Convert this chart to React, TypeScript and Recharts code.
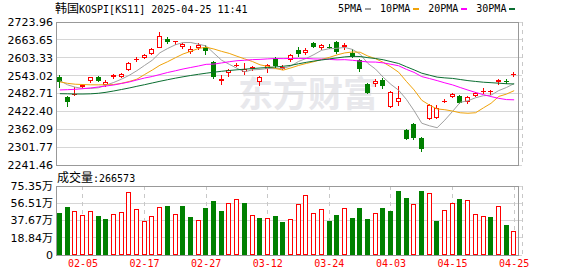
import React from 'react';
import { ComposedChart, Bar, Line, XAxis, YAxis, CartesianGrid, ReferenceArea } from 'recharts';

const dates = [
  '01-31', '02-03', '02-04', '02-05', '02-06', '02-07', '02-10', '02-11', '02-12', '02-13',
  '02-14', '02-17', '02-18', '02-19', '02-20', '02-21', '02-24', '02-25', '02-26', '02-27',
  '02-28', '03-04', '03-05', '03-06', '03-07', '03-10', '03-11', '03-12', '03-13', '03-14',
  '03-17', '03-18', '03-19', '03-20', '03-21', '03-24', '03-25', '03-26', '03-27', '03-28',
  '03-31', '04-01', '04-02', '04-03', '04-04', '04-07', '04-08', '04-09', '04-10', '04-11',
  '04-14', '04-15', '04-16', '04-17', '04-18', '04-21', '04-22', '04-23', '04-24', '04-25',
];

const opens = [
  2540, 2471, 2479, 2506, 2524, 2537, 2510, 2537, 2539, 2563,
  2596, 2604, 2615, 2637, 2668, 2656, 2641, 2623, 2635, 2641,
  2588, 2526, 2552, 2576, 2555, 2564, 2521, 2564, 2602, 2567,
  2596, 2629, 2620, 2653, 2636, 2640, 2658, 2639, 2620, 2596,
  2515, 2516, 2528, 2438, 2453, 2358, 2381, 2331, 2397, 2401,
  2455, 2470, 2474, 2455, 2474, 2489, 2487, 2520, 2526, 2546,
];
const highs = [
  2545, 2473, 2505, 2515, 2540, 2541, 2527, 2550, 2553, 2588,
  2605, 2615, 2636, 2689, 2673, 2660, 2652, 2643, 2652, 2645,
  2591, 2546, 2566, 2585, 2587, 2577, 2541, 2583, 2605, 2580,
  2616, 2640, 2637, 2655, 2650, 2650, 2660, 2652, 2632, 2598,
  2518, 2530, 2535, 2490, 2509, 2362, 2384, 2336, 2448, 2443,
  2464, 2486, 2476, 2474, 2488, 2500, 2496, 2533, 2533, 2556,
];
const lows = [
  2500, 2438, 2474, 2500, 2519, 2521, 2504, 2532, 2535, 2559,
  2588, 2600, 2611, 2636, 2650, 2645, 2632, 2617, 2628, 2614,
  2530, 2512, 2540, 2572, 2546, 2560, 2508, 2553, 2568, 2562,
  2590, 2605, 2614, 2637, 2630, 2632, 2615, 2628, 2603, 2554,
  2480, 2503, 2498, 2435, 2442, 2325, 2325, 2285, 2394, 2398,
  2452, 2466, 2446, 2448, 2470, 2481, 2479, 2510, 2516, 2539,
];
const closes = [
  2520, 2454, 2482, 2512, 2537, 2526, 2523, 2544, 2550, 2584,
  2599, 2612, 2632, 2676, 2656, 2659, 2650, 2633, 2647, 2627,
  2537, 2532, 2563, 2580, 2567, 2571, 2538, 2579, 2577, 2572,
  2611, 2615, 2631, 2641, 2645, 2637, 2622, 2646, 2607, 2564,
  2483, 2525, 2508, 2487, 2466, 2329, 2334, 2296, 2444, 2433,
  2458, 2480, 2450, 2471, 2483, 2492, 2490, 2527, 2523, 2549,
];

// 成交量, 万
const volumes = [
  46.1, 52.7, 47.9, 43.5, 47.9, 42.8, 39.5, 45.0, 46.8, 68.8,
  50.1, 36.9, 42.4, 52.3, 53.8, 45.0, 53.8, 41.7, 38.0, 51.6,
  59.3, 48.3, 56.7, 61.1, 56.7, 43.5, 40.2, 40.2, 42.8, 36.2,
  39.1, 55.6, 65.5, 45.7, 50.1, 37.3, 43.9, 51.2, 40.6, 51.6,
  39.5, 45.7, 51.6, 48.3, 70.2, 62.5, 55.6, 70.2, 67.7, 37.3,
  49.0, 56.7, 61.4, 60.0, 44.6, 42.4, 41.3, 53.4, 32.9, 26.66,
];
// 1 = red (up) bar, 0 = green
const volRise = [
  0, 0, 1, 1, 1, 0, 0, 1, 1, 1,
  1, 1, 1, 1, 0, 1, 0, 0, 1, 0,
  0, 0, 1, 1, 0, 1, 0, 1, 0, 0,
  1, 1, 1, 1, 1, 0, 0, 1, 0, 0,
  0, 1, 0, 0, 0, 0, 1, 0, 1, 0,
  1, 1, 0, 1, 1, 1, 0, 1, 0, 1,
];

const ma5 = [
  2526, 2512, 2504, 2500, 2500, 2502, 2511, 2520, 2531, 2544,
  2559.6, 2577.4, 2595.0, 2620.2, 2634.6, 2647.0, 2654.6, 2654.8, 2649.0, 2643.2,
  2618.8, 2595.2, 2581.2, 2567.8, 2555.8, 2562.6, 2563.8, 2567.0, 2566.4, 2567.4,
  2575.4, 2590.8, 2601.2, 2614.0, 2628.6, 2633.8, 2635.2, 2638.2, 2631.4, 2615.2,
  2584.4, 2565.0, 2537.4, 2513.4, 2493.8, 2463.0, 2424.8, 2382.4, 2373.8, 2367.2,
  2393.0, 2422.2, 2453.0, 2458.4, 2468.4, 2475.2, 2477.2, 2492.6, 2503.0, 2516.2,
];
const ma10 = [
  2522, 2517, 2514, 2513, 2512, 2512, 2512, 2513, 2517, 2523.2,
  2530.9, 2546.7, 2561.7, 2578.1, 2590.0, 2603.3, 2616.0, 2624.9, 2634.6, 2638.9,
  2632.9, 2624.9, 2618.0, 2608.4, 2599.5, 2590.7, 2579.5, 2574.1, 2567.1, 2561.6,
  2569.0, 2577.3, 2584.1, 2590.2, 2598.0, 2604.6, 2613.0, 2619.7, 2622.7, 2621.9,
  2609.1, 2600.1, 2587.8, 2572.4, 2554.5, 2523.7, 2494.9, 2459.9, 2443.6, 2430.5,
  2428.0, 2423.5, 2417.7, 2416.1, 2417.8, 2434.1, 2449.7, 2472.8, 2480.7, 2492.3,
];
const ma20 = [
  2494.6, 2495.6, 2496.9, 2498.9, 2501.3, 2504.6, 2508.0, 2511.4, 2516.5, 2521.5,
  2528.3, 2535.0, 2540.1, 2546.8, 2553.6, 2559.3, 2565.4, 2570.5, 2575.5, 2581.1,
  2581.9, 2585.8, 2589.9, 2593.3, 2594.8, 2597.0, 2597.8, 2599.5, 2600.9, 2600.3,
  2601.0, 2601.1, 2601.1, 2599.3, 2598.8, 2597.7, 2596.3, 2596.9, 2594.9, 2591.8,
  2589.1, 2588.7, 2586.0, 2581.3, 2576.3, 2564.2, 2554.0, 2539.8, 2533.2, 2526.2,
  2518.6, 2511.8, 2502.8, 2494.3, 2486.2, 2478.9, 2472.3, 2466.4, 2462.2, 2461.4,
];
const ma30 = [
  2482.1, 2481.7, 2481.0, 2481.0, 2481.7, 2483.4, 2486.8, 2491.2, 2496.2, 2501.3,
  2507.0, 2512.4, 2518.2, 2523.9, 2529.3, 2534.4, 2539.1, 2543.5, 2547.5, 2551.2,
  2554.6, 2557.6, 2560.3, 2562.7, 2564.7, 2566.8, 2568.8, 2570.5, 2572.2, 2574.6,
  2577.6, 2583.0, 2587.9, 2592.2, 2595.8, 2599.5, 2602.8, 2606.2, 2608.1, 2607.5,
  2603.7, 2600.8, 2596.6, 2590.3, 2584.0, 2573.0, 2562.5, 2551.2, 2544.5, 2538.0,
  2535.4, 2533.6, 2529.9, 2526.2, 2523.4, 2520.8, 2519.2, 2517.5, 2515.7, 2514.9,
];

const priceTicks = [2241.46, 2301.77, 2362.09, 2422.40, 2482.71, 2543.02, 2603.33, 2663.65, 2723.96];
const volTicks = [0, 18.84, 37.67, 56.51, 75.35];
const dateTicks = ['02-05', '02-17', '02-27', '03-12', '03-24', '04-03', '04-15', '04-25'];

const UP = '#ff0000';
const DOWN = '#008000';
const MONO = '"DejaVu Sans Mono", monospace';
const CJK = '"Noto Sans CJK SC", sans-serif';

const rows = dates.map((date, i) => ({
  date,
  open: opens[i],
  high: highs[i],
  low: lows[i],
  close: closes[i],
  range: [lows[i], highs[i]],
  vol: volumes[i],
  rise: volRise[i] === 1,
  ma5: ma5[i],
  ma10: ma10[i],
  ma20: ma20[i],
  ma30: ma30[i],
}));

const Candle = (props: any) => {
  const { x, y, width, height, payload } = props;
  if (x == null || !payload) return null;
  const { open, close, high, low } = payload;
  const top = Math.min(y, y + height);
  const span = Math.abs(height);
  const toY = (v: number) => top + ((high - v) / (high - low)) * span;
  const left = Math.round(x);
  const w = Math.round(width);
  const cx = left + Math.floor(w / 2) + 0.5;
  const yHigh = Math.round(toY(high));
  const yLow = Math.round(toY(low));
  const yTop = Math.round(toY(Math.max(open, close)));
  let yBot = Math.round(toY(Math.min(open, close)));
  if (yBot - yTop < 1) yBot = yTop + 1;

  if (close > open) {
    const thin = yBot - yTop <= 2;
    return (
      <g>
        <line x1={cx} x2={cx} y1={yHigh} y2={yTop} stroke={UP} />
        <line x1={cx} x2={cx} y1={yBot} y2={yLow} stroke={UP} />
        {thin ? (
          <rect x={left} y={yTop} width={w} height={yBot - yTop} fill={UP} />
        ) : (
          <rect x={left + 0.5} y={yTop + 0.5} width={w - 1} height={yBot - yTop - 1} fill="#fff" stroke={UP} />
        )}
      </g>
    );
  }
  return (
    <g>
      <line x1={cx} x2={cx} y1={yHigh} y2={yLow} stroke={DOWN} />
      <rect x={left} y={yTop} width={w} height={yBot - yTop} fill={DOWN} />
    </g>
  );
};

const VolBar = (props: any) => {
  const { x, y, width, height, payload } = props;
  if (x == null || !payload) return null;
  const left = Math.round(x);
  const w = Math.round(width);
  const top = Math.round(y);
  const bottom = Math.round(y + height);
  if (payload.rise) {
    return <rect x={left + 0.5} y={top + 0.5} width={w - 1} height={bottom - top - 1} fill="#fff" stroke={UP} />;
  }
  return <rect x={left} y={top} width={w} height={bottom - top} fill={DOWN} />;
};

const axisTick = { fontSize: 11, fill: '#000', fontFamily: '"DejaVu Sans", "Noto Sans CJK SC", sans-serif' };

const Legend = () => {
  const items = [
    { label: '5PMA', color: '#a0a0a0' },
    { label: '10PMA', color: '#f0a30a' },
    { label: '20PMA', color: '#ff00ff' },
    { label: '30PMA', color: '#0a6e31' },
  ];
  return (
    <div style={{ position: 'absolute', left: 338, top: 2, fontFamily: MONO, fontSize: 10, lineHeight: '14px', whiteSpace: 'nowrap', color: '#000' }}>
      {items.map((it) => (
        <span key={it.label} style={{ marginRight: 9 }}>
          {it.label}
          <span style={{ display: 'inline-block', width: 6, height: 2, background: it.color, marginLeft: 3, verticalAlign: 'middle' }} />
        </span>
      ))}
    </div>
  );
};

export default function App() {
  return (
    <div style={{ position: 'absolute', left: 0, top: 0, width: 578, height: 276, background: '#fff', overflow: 'hidden' }}>
      <div style={{ position: 'absolute', left: 238, top: 66, fontFamily: CJK, fontSize: 35, fontWeight: 700, color: '#e8e8ec', whiteSpace: 'nowrap' }}>
        东方财富
      </div>

      <div style={{ position: 'absolute', left: 55, top: 1, fontSize: 12, lineHeight: '14px', whiteSpace: 'nowrap', color: '#000' }}>
        <span style={{ fontFamily: CJK }}>韩国</span>
        <span style={{ fontFamily: MONO, fontSize: 10 }}>KOSPI[KS11] 2025-04-25 11:41</span>
      </div>
      <Legend />

      <div style={{ position: 'absolute', left: 0, top: 0 }}>
        <ComposedChart width={578} height={176} data={rows} margin={{ top: 22, right: 56, bottom: 11, left: 0 }}>
          <CartesianGrid vertical={false} stroke="#d6d6d6" shapeRendering="crispEdges" />
          <CartesianGrid horizontal={false} stroke="#c8c8c8" strokeDasharray="4 4" shapeRendering="crispEdges" />
          <XAxis dataKey="date" ticks={dateTicks} interval={0} tick={false} tickLine={false} axisLine={false} height={0} padding={{ left: 0, right: 4 }} />
          <YAxis
            domain={[priceTicks[0], priceTicks[priceTicks.length - 1]]}
            ticks={priceTicks}
            interval={0}
            width={56}
            axisLine={false}
            tickLine={false}
            tickSize={1}
            tickMargin={2}
            tick={axisTick}
            tickFormatter={(v: number) => v.toFixed(2)}
            allowDataOverflow
          />
          <ReferenceArea y1={priceTicks[0]} y2={priceTicks[priceTicks.length - 1]} fill="none" stroke="#999" shapeRendering="crispEdges" />
          <Bar dataKey="range" shape={<Candle />} barSize={5} isAnimationActive={false} />
          <Line dataKey="ma5" stroke="#a0a0a0" strokeWidth={1} dot={false} activeDot={false} isAnimationActive={false} />
          <Line dataKey="ma10" stroke="#f0a30a" strokeWidth={1} dot={false} activeDot={false} isAnimationActive={false} />
          <Line dataKey="ma20" stroke="#ff00ff" strokeWidth={1} dot={false} activeDot={false} isAnimationActive={false} />
          <Line dataKey="ma30" stroke="#0a6e31" strokeWidth={1} dot={false} activeDot={false} isAnimationActive={false} />
        </ComposedChart>
      </div>

      <div style={{ position: 'absolute', left: 57, top: 170, fontSize: 12, lineHeight: '14px', whiteSpace: 'nowrap', color: '#000' }}>
        <span style={{ fontFamily: CJK }}>成交量</span>
        <span style={{ fontFamily: MONO, fontSize: 10 }}>:266573</span>
      </div>

      <div style={{ position: 'absolute', left: 0, top: 166 }}>
        <ComposedChart width={578} height={110} data={rows} margin={{ top: 20, right: 56, bottom: 0, left: 0 }}>
          <CartesianGrid vertical={false} stroke="#d6d6d6" shapeRendering="crispEdges" />
          <CartesianGrid horizontal={false} stroke="#c8c8c8" strokeDasharray="4 4" shapeRendering="crispEdges" />
          <XAxis
            dataKey="date"
            ticks={dateTicks}
            interval={0}
            height={21}
            tickLine={false}
            axisLine={false}
            tickSize={2}
            tickMargin={3}
            padding={{ left: 0, right: 4 }}
            tick={{ fontSize: 10, fill: UP, fontFamily: MONO }}
          />
          <YAxis
            domain={[0, volTicks[volTicks.length - 1]]}
            ticks={volTicks}
            interval={0}
            width={56}
            axisLine={false}
            tickLine={false}
            tickSize={1}
            tickMargin={2}
            tick={axisTick}
            tickFormatter={(v: number) => (v === 0 ? '0' : `${v.toFixed(2)}万`)}
            allowDataOverflow
          />
          <ReferenceArea y1={0} y2={volTicks[volTicks.length - 1]} fill="none" stroke="#999" shapeRendering="crispEdges" />
          <Bar dataKey="vol" shape={<VolBar />} barSize={5} isAnimationActive={false} />
        </ComposedChart>
      </div>
    </div>
  );
}
